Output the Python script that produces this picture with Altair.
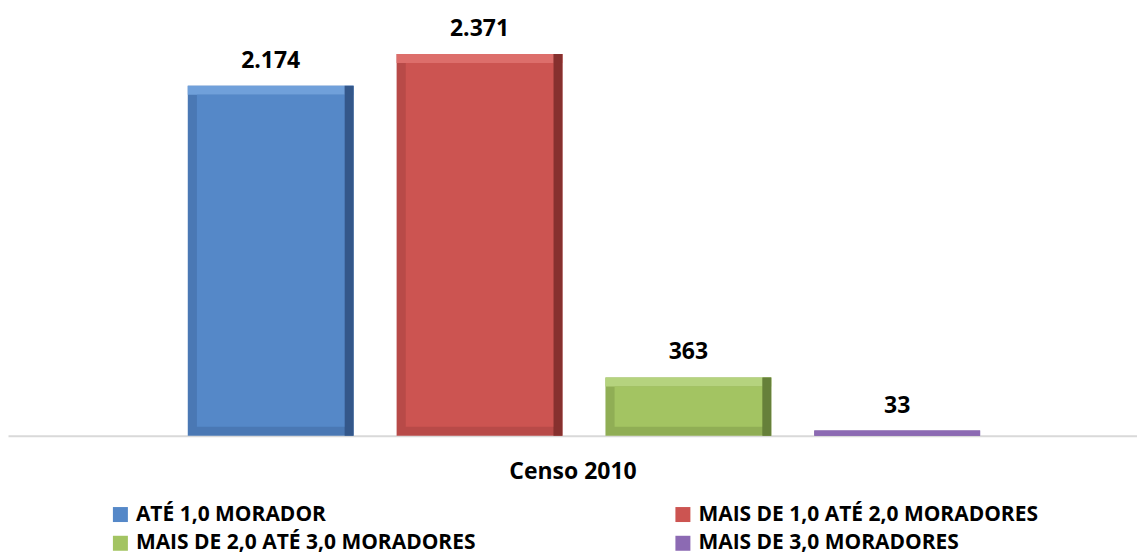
import altair as alt
import pandas as pd

categories = ["ATÉ 1,0 MORADOR", "MAIS DE 1,0 ATÉ 2,0 MORADORES",
              "MAIS DE 2,0 ATÉ 3,0 MORADORES", "MAIS DE 3,0 MORADORES"]
values = [2174, 2371, 363, 33]
labels = ["2.174", "2.371", "363", "33"]
face_colors = ["#5588C8", "#CC5451", "#A3C462", "#8C6AB3"]
frame_colors = ["#4A78B4", "#B84A48", "#90AE55", "#7A5CA0"]
light_colors = ["#70A0DA", "#DD6E6B", "#B5D37E", "#A68BC9"]
dark_colors = ["#34578A", "#86302E", "#66803A", "#4C3668"]

df = pd.DataFrame({"cat": categories, "value": values, "label": labels,
                   "frame": frame_colors, "light": light_colors,
                   "dark": dark_colors})

FONT = "Open Sans"

x = alt.X("cat:N", sort=categories,
          scale=alt.Scale(paddingInner=0.206, paddingOuter=0.806, align=0.534),
          axis=alt.Axis(labels=False, ticks=False, domainColor="#D9D9D9",
                        domainWidth=2, title="Censo 2010", titleFont=FONT,
                        titleFontSize=23, titleFontWeight="bold",
                        titleColor="#000000", titlePadding=25))
y = alt.Y("value:Q", scale=alt.Scale(domain=[0, 2500]), axis=None)

base = alt.Chart(df)
big = base.transform_filter("datum.value > 200")

outer = base.mark_bar().encode(x=x, y=y, fill=alt.Fill("frame:N", scale=None))

top_strip = big.mark_bar(y2Offset=9).encode(
    x=x, y=y, y2="value:Q", fill=alt.Fill("light:N", scale=None))

right_strip = big.mark_bar(width=9, xOffset=78.5).encode(
    x=x, y=y, fill=alt.Fill("dark:N", scale=None))

inner = big.mark_bar(
    width=alt.RelativeBandSize(0.89), yOffset=9, y2Offset=-9
).encode(
    x=x, y=y, y2=alt.datum(0),
    color=alt.Color("cat:N", sort=categories,
                    scale=alt.Scale(domain=categories, range=face_colors),
                    legend=alt.Legend(title=None, orient="none", legendX=102,
                                      legendY=471, columns=2, columnPadding=196,
                                      direction="horizontal",
                                      rowPadding=7, labelFont=FONT,
                                      labelFontSize=21, labelFontWeight="bold",
                                      labelColor="#000000", symbolType="square",
                                      symbolSize=225, symbolStrokeWidth=0,
                                      labelOffset=5, padding=0, labelLimit=600))
)

small = base.transform_filter("datum.value <= 200").mark_bar().encode(
    x=x, y=y, color=alt.Color("cat:N", sort=categories)
)

text = base.mark_text(dy=-18, baseline="alphabetic", font=FONT, fontSize=23,
                      fontWeight="bold", color="#000000").encode(
    x=x, y=y, text="label:N")

chart = alt.layer(outer, top_strip, right_strip, inner, small, text).properties(
    width=1130, height=403,
    padding={"left": 0, "top": 9, "right": 0, "bottom": 0}
).configure_view(stroke=None)

chart.save("out.html", embed_options={"renderer": "svg", "actions": False})
